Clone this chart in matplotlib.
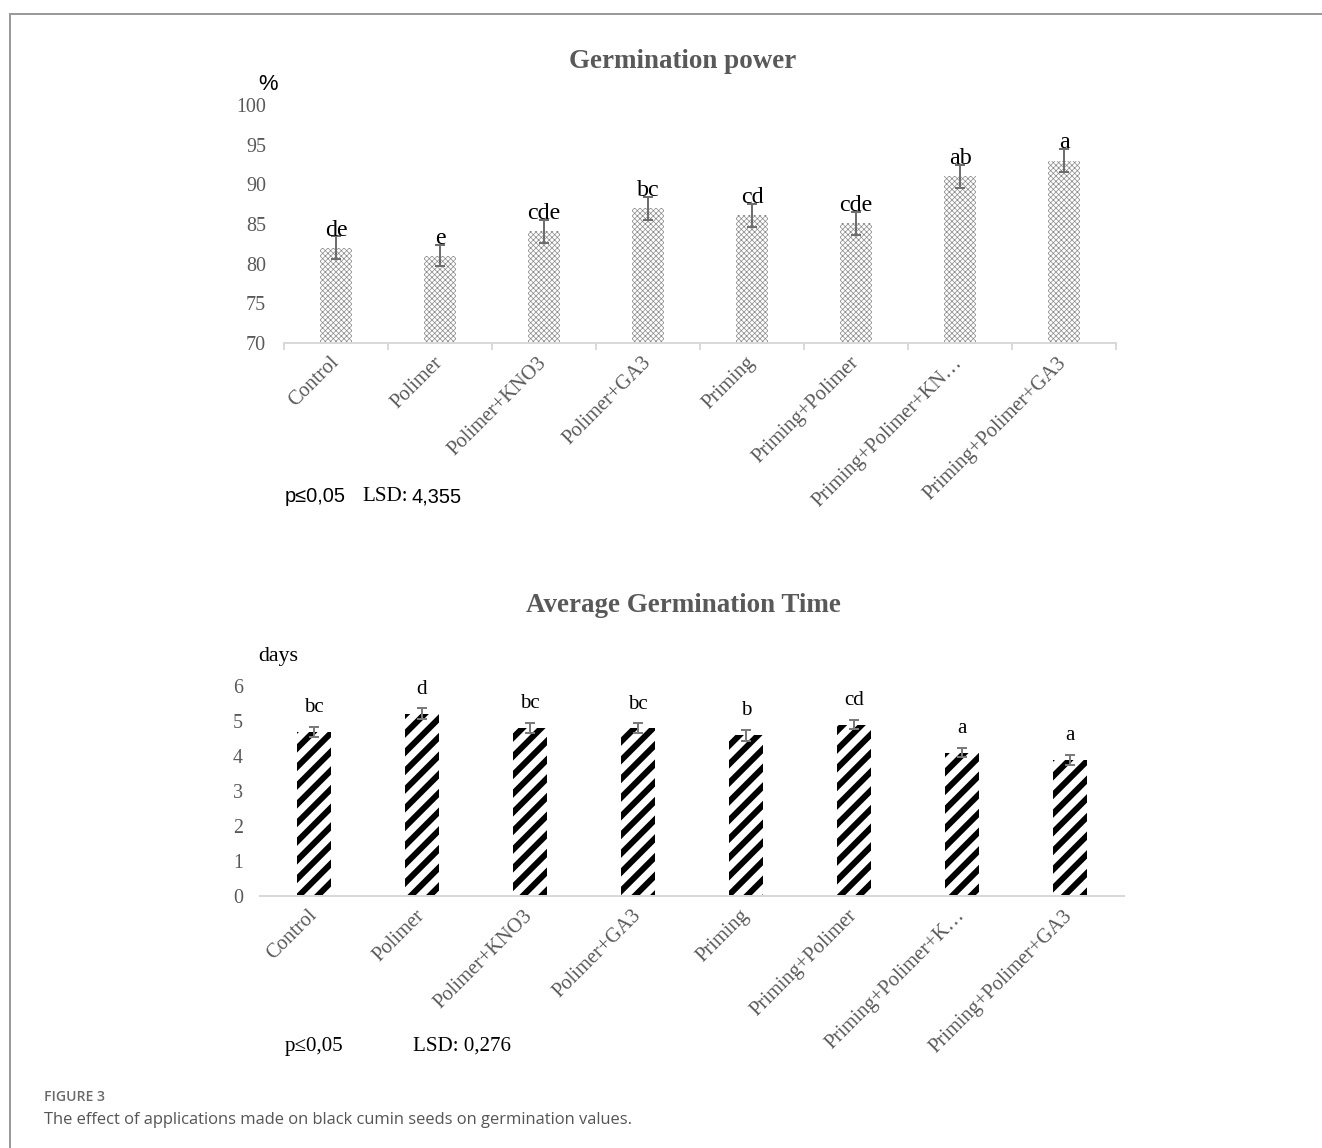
import numpy as np
import matplotlib
matplotlib.use("Agg")
import matplotlib.pyplot as plt
from matplotlib.lines import Line2D

# ---- data ----
treatments = ["Control", "Polimer", "Polimer+KNO3", "Polimer+GA3", "Priming",
              "Priming+Polimer", "Priming+Polimer+KNO3", "Priming+Polimer+GA3"]
power_labels = ["Control", "Polimer", "Polimer+KNO3", "Polimer+GA3", "Priming",
                "Priming+Polimer", "Priming+Polimer+KN\u2026", "Priming+Polimer+GA3"]
time_labels = ["Control", "Polimer", "Polimer+KNO3", "Polimer+GA3", "Priming",
               "Priming+Polimer", "Priming+Polimer+K\u2026", "Priming+Polimer+GA3"]

power_mean = [82.0, 81.0, 84.1, 87.0, 86.1, 85.1, 91.0, 93.0]
power_err = [1.45, 1.35, 1.45, 1.45, 1.45, 1.45, 1.45, 1.45]
power_groups = ["de", "e", "cde", "bc", "cd", "cde", "ab", "a"]
power_ticks = [70, 75, 80, 85, 90, 95, 100]

time_mean = [4.69, 5.21, 4.81, 4.79, 4.59, 4.90, 4.10, 3.89]
time_err = [0.15, 0.15, 0.14, 0.14, 0.15, 0.14, 0.14, 0.15]
time_groups = ["bc", "d", "bc", "bc", "b", "cd", "a", "a"]
time_ticks = [0, 1, 2, 3, 4, 5, 6]

# ---- figure setup ----
W, H, DPI = 1322, 1148, 112


def pt(px):
    return px * 72.0 / DPI


SERIF = ["Liberation Serif", "DejaVu Serif"]
SANS = ["Liberation Sans", "DejaVu Sans"]
GRAY = "#595959"
AXIS = "#d9d9d9"

fig = plt.figure(figsize=(W / DPI, H / DPI), dpi=DPI)
fig.patch.set_facecolor("white")


def axes_px(left, top, right, bottom):
    return fig.add_axes([left / W, 1 - bottom / H, (right - left) / W, (bottom - top) / H])


def fx(x):
    return x / W


def fy(y):
    return 1 - y / H


def style_axes(ax, labels, ticks, ylim, pad_px, boundary_ticks):
    for side in ("top", "right", "left"):
        ax.spines[side].set_visible(False)
    ax.spines["bottom"].set_color(AXIS)
    ax.spines["bottom"].set_linewidth(pt(2))
    ax.set_xlim(-0.5, len(labels) - 0.5)
    ax.set_ylim(*ylim)
    ax.set_yticks(ticks)
    ax.set_yticklabels([str(t) for t in ticks], fontsize=pt(20), family=SERIF, color=GRAY)
    ax.tick_params(axis="y", length=0, pad=pt(pad_px))
    ax.set_xticks(np.arange(len(labels)))
    ax.set_xticklabels(labels, rotation=45, ha="right", va="center",
                       rotation_mode="anchor", fontsize=pt(20.5), family=SERIF, color=GRAY)
    ax.tick_params(axis="x", which="major", length=0, pad=pt(17))
    if boundary_ticks:
        ax.set_xticks(np.arange(len(labels) + 1) - 0.5, minor=True)
        ax.tick_params(axis="x", which="minor", length=pt(7), width=pt(2), color=AXIS)
    ax.patch.set_alpha(0)


x = np.arange(len(treatments))

# ---- Germination power ----
ax1 = axes_px(284, 105, 1116, 343)
bars1 = ax1.bar(x, power_mean, width=0.3, bottom=0, color="white",
                edgecolor="#8a8a8a", linewidth=0, hatch="xxxxxxx", zorder=2)
for b in bars1:
    if hasattr(b, "set_hatch_linewidth"):
        b.set_hatch_linewidth(pt(0.7))
ax1.errorbar(x, power_mean, yerr=power_err, fmt="none", ecolor="#6e6e6e",
             elinewidth=pt(2), capsize=pt(5), capthick=pt(2), zorder=3)
for xi, m, e, g in zip(x, power_mean, power_err, power_groups):
    ax1.text(xi, m + e + 0.1, g, ha="center", va="baseline", fontsize=pt(24),
             family=SERIF, color="black", zorder=4)
style_axes(ax1, power_labels, power_ticks, (70, 100), 18, True)
fig.text(fx(683), fy(62), "Germination power", ha="center", va="center",
         fontsize=pt(27), family=SERIF, fontweight="bold", color=GRAY)
fig.text(fx(268), fy(84), "%", ha="center", va="center", fontsize=pt(22),
         family=SANS, color="black")
fig.text(fx(285), fy(497), "p\u22640,05", ha="left", va="center", fontsize=pt(20),
         family=SANS, color="black")
fig.text(fx(362), fy(497), "LSD:", ha="left", va="center", fontsize=pt(21),
         family=SERIF, color="black")
fig.text(fx(412), fy(497), "4,355", ha="left", va="center", fontsize=pt(20),
         family=SANS, color="black")

# ---- Average Germination Time ----
ax2 = axes_px(260, 686, 1124, 896)
bars2 = ax2.bar(x, time_mean, width=0.32, color="white", edgecolor="black",
                linewidth=0, hatch="//", zorder=2)
for b in bars2:
    if hasattr(b, "set_hatch_linewidth"):
        b.set_hatch_linewidth(pt(6))
ax2.errorbar(x, time_mean, yerr=time_err, fmt="none", ecolor="#7a7a7a",
             elinewidth=pt(2), capsize=pt(5), capthick=pt(2), zorder=3)
for xi, m, e, g in zip(x, time_mean, time_err, time_groups):
    ax2.text(xi, m + e + 0.42, g, ha="center", va="baseline", fontsize=pt(21),
             family=SERIF, color="black", zorder=4)
style_axes(ax2, time_labels, time_ticks, (0, 6), 17, False)
fig.text(fx(683), fy(606), "Average Germination Time", ha="center", va="center",
         fontsize=pt(27), family=SERIF, fontweight="bold", color=GRAY)
fig.text(fx(258), fy(657), "days", ha="left", va="center", fontsize=pt(22),
         family=SERIF, color="black")
fig.text(fx(285), fy(1046), "p\u22640,05", ha="left", va="center", fontsize=pt(21),
         family=SERIF, color="black")
fig.text(fx(413), fy(1046), "LSD: 0,276", ha="left", va="center", fontsize=pt(21),
         family=SERIF, color="black")

# ---- caption and frame ----
fig.text(fx(44), fy(1097), "FIGURE 3", ha="left", va="center", fontsize=pt(14),
         family=["Open Sans", "DejaVu Sans"], fontweight="semibold", color="#6a6a6a")
fig.text(fx(44), fy(1120), "The effect of applications made on black cumin seeds on germination values.",
         ha="left", va="center", fontsize=pt(16.5), family=["Open Sans", "DejaVu Sans"],
         color="#555555")
fig.add_artist(Line2D([fx(10), fx(1322)], [fy(14), fy(14)], color="#9a9a9a",
                      linewidth=pt(2), transform=fig.transFigure))
fig.add_artist(Line2D([fx(10), fx(10)], [fy(14), fy(1148)], color="#9a9a9a",
                      linewidth=pt(2), transform=fig.transFigure))

fig.savefig("out.png", dpi=DPI)
